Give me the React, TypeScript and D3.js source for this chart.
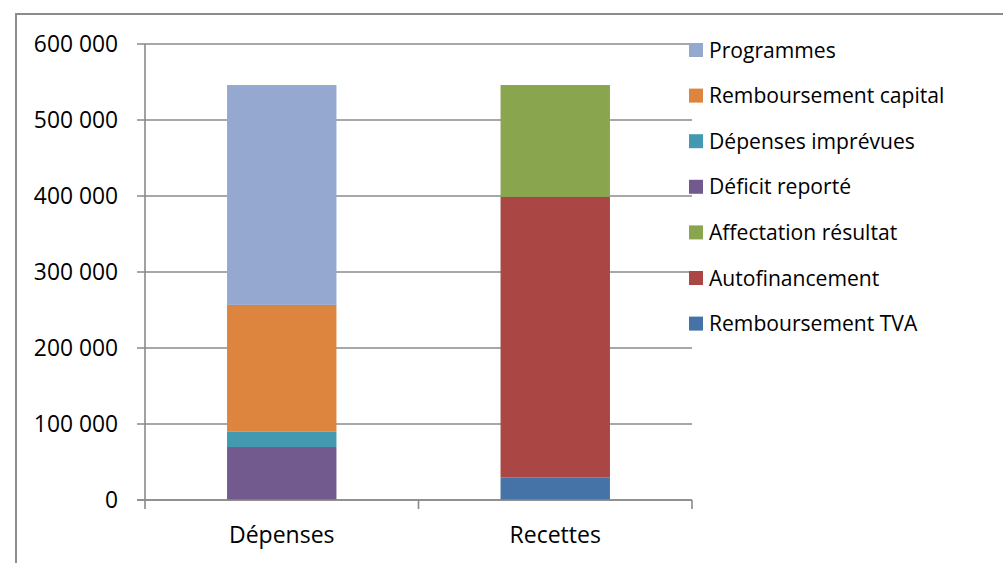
import React from "react";
import * as d3 from "d3";

const categories = ["Dépenses", "Recettes"];
const seriesNames = [
  "Déficit reporté",
  "Dépenses imprévues",
  "Remboursement capital",
  "Programmes",
  "Remboursement TVA",
  "Autofinancement",
  "Affectation résultat",
];
const seriesColors = ["#725A8F", "#4299B0", "#DD843F", "#95A9D0", "#4572A7", "#AA4644", "#89A54E"];
// values per series: [Dépenses, Recettes]
const deficitReporte = [69700, 0];
const depensesImprevues = [20000, 0];
const remboursementCapital = [167000, 0];
const programmes = [289300, 0];
const remboursementTVA = [0, 29400];
const autofinancement = [0, 369300];
const affectationResultat = [0, 147300];
const legendOrder = [
  "Programmes",
  "Remboursement capital",
  "Dépenses imprévues",
  "Déficit reporté",
  "Affectation résultat",
  "Autofinancement",
  "Remboursement TVA",
];
const yTicks = [0, 100000, 200000, 300000, 400000, 500000, 600000];

const seriesValues = [
  deficitReporte,
  depensesImprevues,
  remboursementCapital,
  programmes,
  remboursementTVA,
  autofinancement,
  affectationResultat,
];

const table = categories.map((c, i) => {
  const row: any = { category: c };
  seriesNames.forEach((s, j) => (row[s] = seriesValues[j][i]));
  return row;
});

const fmt = d3.formatLocale({ decimal: ",", thousands: " ", grouping: [3], currency: ["", "€"] }).format(",d");

export default function App() {
  const W = 1003, H = 563;
  const x0 = 145, x1 = 692, yTop = 44, yBot = 500;
  const x = d3.scaleBand<string>().domain(categories).range([x0, x1]).paddingInner(0.6).paddingOuter(0.3);
  const y = d3.scaleLinear().domain([0, 600000]).range([yBot, yTop]);
  const stacked = d3.stack<any>().keys(seriesNames)(table);
  const color = d3.scaleOrdinal<string, string>().domain(seriesNames).range(seriesColors);
  const font = "'Open Sans', sans-serif";
  const gridColor = "#8A8A8A";
  const step = x.step();
  const catTicks = [x0, ...categories.map((c, i) => x0 + step * (i + 1))];

  return (
    <div style={{ position: "absolute", left: 0, top: 0 }}>
      <svg width={W} height={H} style={{ display: "block" }}>
        <rect x={0} y={0} width={W} height={H} fill="#fff" />
        {/* chart border */}
        <path d={`M16,${H + 5} L16,14 L${W + 5},14`} fill="none" stroke="#8C8C8C" strokeWidth={2} />
        {/* gridlines */}
        {yTicks.map((t) => (
          <line key={t} x1={x0 - 8} x2={x1} y1={y(t)} y2={y(t)} stroke={gridColor} strokeWidth={1.6} />
        ))}
        {/* bars */}
        {stacked.map((s) =>
          s.map((d, i) =>
            d[1] - d[0] > 0 ? (
              <rect
                key={s.key + i}
                x={x(categories[i])}
                width={x.bandwidth()}
                y={y(d[1])}
                height={y(d[0]) - y(d[1])}
                fill={color(s.key)}
              />
            ) : null
          )
        )}
        {/* axes */}
        <line x1={x0} x2={x0} y1={yTop} y2={yBot + 1} stroke={gridColor} strokeWidth={1.6} />
        <line x1={x0 - 8} x2={x1} y1={yBot} y2={yBot} stroke={gridColor} strokeWidth={1.6} />
        {catTicks.map((t) => (
          <line key={t} x1={t} x2={t} y1={yBot} y2={yBot + 9} stroke={gridColor} strokeWidth={1.6} />
        ))}
        {yTicks.map((t) => (
          <text key={t} x={118} y={y(t)} dy="0.36em" textAnchor="end" fontFamily={font} fontSize={22.8} fill="#000">
            {fmt(t)}
          </text>
        ))}
        {categories.map((c) => (
          <text key={c} x={(x(c) as number) + x.bandwidth() / 2} y={543} textAnchor="middle" fontFamily={font} fontSize={23} fill="#000">
            {c}
          </text>
        ))}
        {/* legend */}
        {legendOrder.map((s, i) => {
          const cy = 50 + i * 45.6;
          return (
            <g key={s}>
              <rect x={689} y={cy - 7} width={14} height={14} fill={color(s)} />
              <text x={709} y={cy} dy="0.36em" fontFamily={font} fontSize={21.1} fill="#000">
                {s}
              </text>
            </g>
          );
        })}
      </svg>
    </div>
  );
}
